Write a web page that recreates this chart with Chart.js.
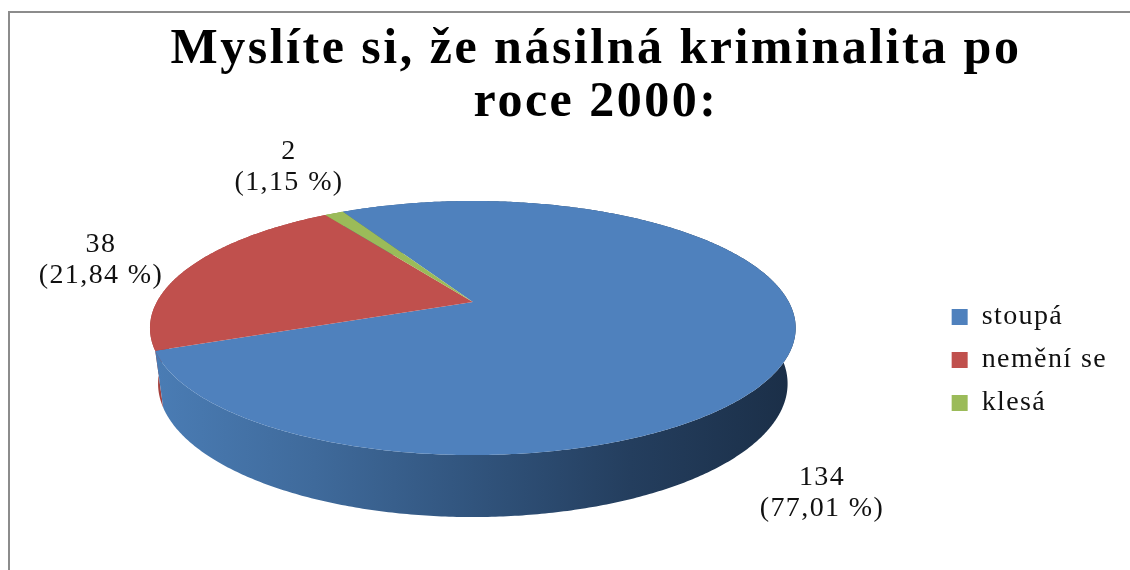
<!DOCTYPE html>
<html>
<head>
<meta charset="utf-8">
<title>Násilná kriminalita</title>
<script src="https://cdn.jsdelivr.net/npm/chart.js@4"></script>
<style>
    html, body { margin: 0; padding: 0; background: #fff; }
    canvas { display: block; filter: blur(0.5px); }
</style>
</head>
<body>
<canvas id="pieChart" width="1130" height="570"></canvas>
<script>
const titleLines = ['Myslíte si, že násilná kriminalita po', 'roce 2000:'];
const categories = ['stoupá', 'nemění se', 'klesá'];
const counts = [134, 38, 2];
const percents = ['77,01', '21,84', '1,15'];
const sliceColors = ['#4f81bd', '#c0504d', '#9bbb59'];

const serif = '"Liberation Serif", serif';
const TEXT_SPREAD = '0.05em';

// the tilted pie: circle -> picture, with a bit of perspective
function project(arc, u, v) {
    const w = 1 - 0.2047 * v;
    return {
        x: arc.x + 316 * u / w,
        y: arc.y - 58 + ((59.9 + 0.2047 * 302) * v) / w
    };
}

function lower(arc, p) {
    return {
        x: arc.x + (p.x - arc.x) * 0.975,
        y: p.y + 62 - (arc.y + 95 - p.y) * 0.05
    };
}

function arcPoints(arc, from, to) {
    const pts = [];
    const steps = Math.max(2, Math.ceil((to - from) / 0.01));
    for (let i = 0; i <= steps; i++) {
        const a = from + (to - from) * i / steps;
        pts.push(project(arc, Math.cos(a), Math.sin(a)));
    }
    return pts;
}

function fillPath(ctx, pts, fill) {
    ctx.beginPath();
    pts.forEach((p, i) => i ? ctx.lineTo(p.x, p.y) : ctx.moveTo(p.x, p.y));
    ctx.closePath();
    ctx.fillStyle = fill;
    ctx.fill();
}

const tiltedPie = {
    id: 'tiltedPie',
    beforeLayout(chart) {
        chart.ctx.letterSpacing = TEXT_SPREAD;
    },
    afterLayout(chart) {
        // title sits right of the middle in the original
        chart.titleBlock.left += 33;
        chart.titleBlock.right += 33;
    },
    beforeDraw(chart) {
        const ctx = chart.ctx;
        ctx.save();
        ctx.fillStyle = '#fff';
        ctx.fillRect(0, 0, chart.width, chart.height);
        ctx.fillStyle = '#8c8c8c';
        ctx.fillRect(8, 11, 2, chart.height - 11);
        ctx.fillRect(8, 11, chart.width - 8, 2);
        ctx.restore();
    },
    beforeDatasetsDraw(chart) {
        const ctx = chart.ctx;
        const arcs = chart.getDatasetMeta(0).data;
        const first = arcs[0];

        const blueWall = ctx.createLinearGradient(first.x - 316, 0, first.x + 316, 0);
        blueWall.addColorStop(0, '#4a7cb4');
        blueWall.addColorStop(0.25, '#3f6a9b');
        blueWall.addColorStop(0.5, '#31547d');
        blueWall.addColorStop(0.75, '#243e5e');
        blueWall.addColorStop(1, '#1b2f48');
        const wallFills = [blueWall, '#a5403d', '#84a04a'];

        // walls first, back to front, then the top faces over them
        [2, 1, 0].forEach(i => {
            const top = arcPoints(arcs[i], arcs[i].startAngle, arcs[i].endAngle);
            const bottom = top.map(p => lower(arcs[i], p)).reverse();
            fillPath(ctx, top.concat(bottom), wallFills[i]);
        });
        arcs.forEach((arc, i) => {
            const apex = project(arc, 0, 0);
            const rim = arcPoints(arc, arc.startAngle, arc.endAngle);
            fillPath(ctx, [apex].concat(rim), sliceColors[i]);
        });
        return false;
    },
    afterDraw(chart) {
        const ctx = chart.ctx;
        const anchors = [[822, 478], [101, 245], [289, 152]];
        ctx.save();
        ctx.font = '28px ' + serif;
        ctx.letterSpacing = TEXT_SPREAD;
        ctx.fillStyle = '#111';
        ctx.textAlign = 'center';
        ctx.textBaseline = 'middle';
        counts.forEach((n, i) => {
            ctx.fillText(String(n), anchors[i][0], anchors[i][1]);
            ctx.fillText('(' + percents[i] + ' %)', anchors[i][0], anchors[i][1] + 31);
        });
        ctx.restore();
    }
};

new Chart(document.getElementById('pieChart').getContext('2d'), {
    type: 'pie',
    data: {
        labels: categories,
        datasets: [{
            data: counts,
            backgroundColor: sliceColors,
            borderWidth: 0
        }]
    },
    options: {
        responsive: false,
        animation: false,
        rotation: -29,
        radius: 127,
        layout: { padding: { left: 9, right: 13 } },
        plugins: {
            title: {
                display: true,
                text: titleLines,
                color: '#000',
                font: { family: serif, size: 50, weight: 'bold', lineHeight: 1.06 },
                padding: { top: 24, bottom: 20 }
            },
            legend: {
                position: 'right',
                fullSize: false,
                labels: {
                    boxWidth: 16,
                    boxHeight: 16,
                    padding: 15,
                    color: '#111',
                    font: { family: serif, size: 28 }
                }
            },
            tooltip: { enabled: false }
        }
    },
    plugins: [tiltedPie]
});
</script>
</body>
</html>
